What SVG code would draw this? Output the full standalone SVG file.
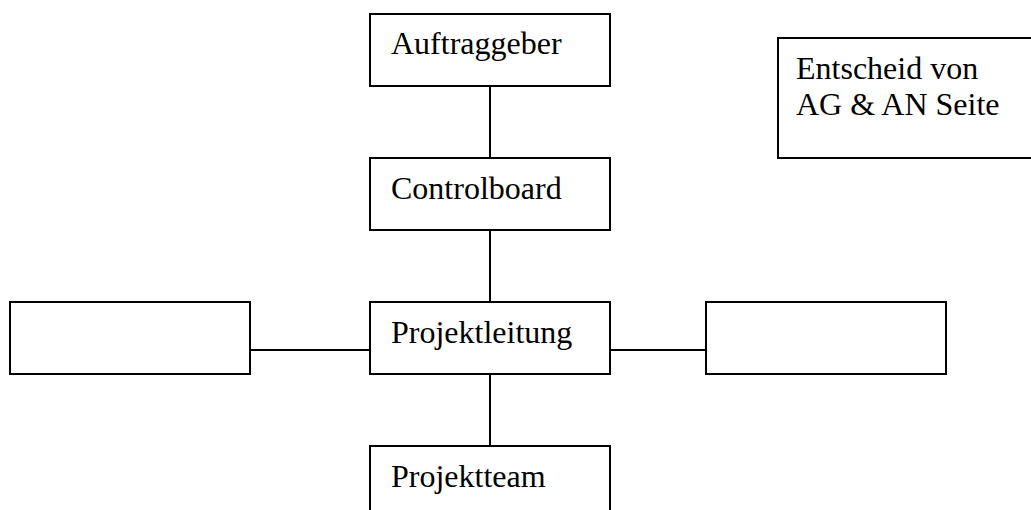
<svg xmlns="http://www.w3.org/2000/svg" width="1031" height="510" viewBox="0 0 1031 510">
  <style>
    .box { fill: #ffffff; stroke: #000000; stroke-width: 2; }
    .link { stroke: #000000; stroke-width: 2; fill: none; }
    .label { font-family: "Liberation Serif", "Times New Roman", serif; font-size: 32px; fill: #000000; }
  </style>
  <rect x="0" y="0" width="1031" height="510" fill="#ffffff"/>

  <!-- connectors -->
  <g id="connectors">
    <line class="link" x1="490" y1="86" x2="490" y2="158"/>
    <line class="link" x1="490" y1="230" x2="490" y2="302"/>
    <line class="link" x1="490" y1="374" x2="490" y2="446"/>
    <line class="link" x1="250" y1="350" x2="370" y2="350"/>
    <line class="link" x1="610" y1="350" x2="706" y2="350"/>
  </g>

  <g id="auftraggeber">
    <rect class="box" x="370" y="14" width="240" height="72"/>
    <text class="label" x="391" y="54">Auftraggeber</text>
  </g>

  <g id="controlboard">
    <rect class="box" x="370" y="158" width="240" height="72"/>
    <text class="label" x="391" y="199">Controlboard</text>
  </g>

  <g id="projektleitung">
    <rect class="box" x="370" y="302" width="240" height="72"/>
    <text class="label" x="391" y="343">Projektleitung</text>
  </g>

  <g id="projektteam">
    <rect class="box" x="370" y="446" width="240" height="72"/>
    <text class="label" x="391" y="487">Projektteam</text>
  </g>

  <g id="left-empty">
    <rect class="box" x="10" y="302" width="240" height="72"/>
  </g>

  <g id="right-empty">
    <rect class="box" x="706" y="302" width="240" height="72"/>
  </g>

  <g id="entscheid">
    <rect class="box" x="778" y="38" width="270" height="120"/>
    <text class="label" x="796" y="79">Entscheid von</text>
    <text class="label" x="796" y="115">AG &amp; AN Seite</text>
  </g>
</svg>
